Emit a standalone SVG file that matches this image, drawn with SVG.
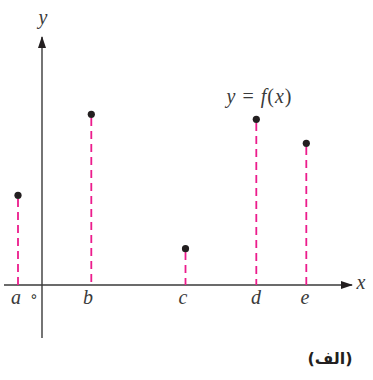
<svg xmlns="http://www.w3.org/2000/svg" width="373" height="380" viewBox="0 0 373 380">
<style>
.axis{stroke:#3a3a3a;stroke-width:1.4;fill:none}
.drop{stroke:#ec1c8c;stroke-width:1.8;stroke-dasharray:8 5;fill:none}
.pt{fill:#231f20}
.math{font-family:"Liberation Serif",serif;font-style:italic;font-size:20px;fill:#3a3a3a}
.lbl{font-family:"DejaVu Sans","Noto Sans",sans-serif;font-weight:bold;font-size:16px;fill:#231f20}
</style>
<defs>
<marker id="arr" markerWidth="12" markerHeight="8" refX="11" refY="4" orient="auto" markerUnits="userSpaceOnUse">
<path d="M0,0 L12,4 L0,8 Z" fill="#231f20"/>
</marker>
</defs>
<g id="connectors">
<line class="axis" x1="4" y1="285" x2="352" y2="285" marker-end="url(#arr)"/>
<line class="axis" x1="42" y1="338" x2="42" y2="37" marker-end="url(#arr)"/>
<line class="drop" x1="18" y1="199" x2="18" y2="285"/>
<line class="drop" x1="91.3" y1="118" x2="91.3" y2="285"/>
<line class="drop" x1="185.5" y1="252" x2="185.5" y2="285"/>
<line class="drop" x1="256.3" y1="123" x2="256.3" y2="285"/>
<line class="drop" x1="306.3" y1="147" x2="306.3" y2="285"/>
</g>
<g id="point-a"><circle class="pt" cx="18" cy="195.3" r="3.6"/></g>
<g id="point-b"><circle class="pt" cx="91.3" cy="114.3" r="3.6"/></g>
<g id="point-c"><circle class="pt" cx="185.5" cy="248.7" r="3.6"/></g>
<g id="point-d"><circle class="pt" cx="256.3" cy="119.3" r="3.6"/></g>
<g id="point-e"><circle class="pt" cx="306.3" cy="143.3" r="3.6"/></g>
<g id="labels">
<text class="math" x="43" y="24" text-anchor="middle">y</text>
<text class="math" x="361" y="289" text-anchor="middle">x</text>
<text class="math" x="16" y="304" text-anchor="middle">a</text>
<text class="math" x="88" y="304" text-anchor="middle">b</text>
<text class="math" x="183" y="304" text-anchor="middle">c</text>
<text class="math" x="256" y="304" text-anchor="middle">d</text>
<text class="math" x="305" y="304" text-anchor="middle">e</text>
<text x="34" y="301" text-anchor="middle" font-family="'DejaVu Sans',sans-serif" font-size="14" fill="#231f20">∘</text>
<text class="math" x="259.5" y="103" text-anchor="middle" letter-spacing="1">y<tspan font-style="normal"> = </tspan>f<tspan font-style="normal">(</tspan>x<tspan font-style="normal">)</tspan></text>
<text class="lbl" x="330" y="364" text-anchor="middle" direction="rtl">(الف)</text>
</g>
</svg>
